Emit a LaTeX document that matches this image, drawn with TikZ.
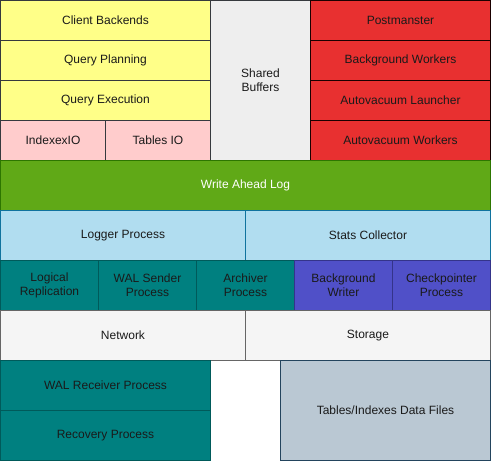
\documentclass[tikz,border=0pt]{standalone}
\usepackage{fontspec}
\setmainfont{Liberation Sans}
\usepackage{tikz}
\usetikzlibrary{positioning}

\definecolor{yellowFill}{HTML}{FFFF88}
\definecolor{pinkFill}{HTML}{FFCCCC}
\definecolor{greyFill}{HTML}{EEEEEE}
\definecolor{darkLine}{HTML}{36393D}
\definecolor{redFill}{HTML}{E83030}
\definecolor{redLine}{HTML}{1A0000}
\definecolor{greenFill}{HTML}{60A917}
\definecolor{greenLine}{HTML}{2D7600}
\definecolor{blueFill}{HTML}{B1DDF0}
\definecolor{blueLine}{HTML}{10739E}
\definecolor{tealFill}{HTML}{008080}
\definecolor{tealLine}{HTML}{005A5A}
\definecolor{violetFill}{HTML}{5050C8}
\definecolor{violetLine}{HTML}{34348A}
\definecolor{lightFill}{HTML}{F5F5F5}
\definecolor{lightLine}{HTML}{666666}
\definecolor{slateFill}{HTML}{BAC8D3}
\definecolor{slateLine}{HTML}{23445D}
\definecolor{textDark}{HTML}{1A1A1A}

\begin{document}
\begin{tikzpicture}[
	x=1pt, y=-1pt,
	MyBox/.style={rectangle, draw, line width=1pt, anchor=north west,
		inner sep=0pt, outer sep=0pt, align=center, text=textDark,
		font=\fontsize{12}{14}\selectfont},
	YellowBox/.style={MyBox, fill=yellowFill, draw=darkLine},
	PinkBox/.style={MyBox, fill=pinkFill, draw=darkLine},
	RedBox/.style={MyBox, fill=redFill, draw=redLine},
	BlueBox/.style={MyBox, fill=blueFill, draw=blueLine},
	TealBox/.style={MyBox, fill=tealFill, draw=tealLine},
	VioletBox/.style={MyBox, fill=violetFill, draw=violetLine},
	LightBox/.style={MyBox, fill=lightFill, draw=lightLine}
	]

\useasboundingbox (0,0) rectangle (491,461);

% backend processes
\node [YellowBox, minimum width=210pt, minimum height=40pt] (client) at (0.5,0.5) {Client Backends};
\node [YellowBox, minimum width=210pt, minimum height=40pt] (planning) at (0.5,40.5) {Query Planning};
\node [YellowBox, minimum width=210pt, minimum height=40pt] (execution) at (0.5,80.5) {Query Execution};
\node [PinkBox, minimum width=105pt, minimum height=40pt] (indexio) at (0.5,120.5) {IndexexIO};
\node [PinkBox, minimum width=105pt, minimum height=40pt] (tablesio) at (105.5,120.5) {Tables IO};

% shared memory
\node [MyBox, fill=greyFill, draw=darkLine, minimum width=100pt, minimum height=160pt] (buffers) at (210.5,0.5) {Shared\\Buffers};

% server processes
\node [RedBox, minimum width=180pt, minimum height=40pt] (postmaster) at (310.5,0.5) {Postmanster};
\node [RedBox, minimum width=180pt, minimum height=40pt] (bgworkers) at (310.5,40.5) {Background Workers};
\node [RedBox, minimum width=180pt, minimum height=40pt] (avlauncher) at (310.5,80.5) {Autovacuum Launcher};
\node [RedBox, minimum width=180pt, minimum height=40pt] (avworkers) at (310.5,120.5) {Autovacuum Workers};

% WAL
\node [MyBox, fill=greenFill, draw=greenLine, text=white, minimum width=490pt, minimum height=50pt] (wal) at (0.5,160.5) {Write Ahead Log};

\node [BlueBox, minimum width=245pt, minimum height=50pt] (logger) at (0.5,210.5) {Logger Process};
\node [BlueBox, minimum width=245pt, minimum height=50pt] (stats) at (245.5,210.5) {Stats Collector};

\node [TealBox, minimum width=98pt, minimum height=50pt] (logical) at (0.5,260.5) {Logical\\Replication};
\node [TealBox, minimum width=98pt, minimum height=50pt] (walsender) at (98.5,260.5) {WAL Sender\\Process};
\node [TealBox, minimum width=98pt, minimum height=50pt] (archiver) at (196.5,260.5) {Archiver\\Process};
\node [VioletBox, minimum width=98pt, minimum height=50pt] (bgwriter) at (294.5,260.5) {Background\\Writer};
\node [VioletBox, minimum width=98pt, minimum height=50pt] (checkpointer) at (392.5,260.5) {Checkpointer\\Process};

\node [LightBox, minimum width=245pt, minimum height=50pt] (network) at (0.5,310.5) {Network};
\node [LightBox, minimum width=245pt, minimum height=50pt] (storage) at (245.5,310.5) {Storage};

% standby side and data files
\node [TealBox, minimum width=210pt, minimum height=50pt] (walreceiver) at (0.5,360.5) {WAL Receiver Process};
\node [TealBox, minimum width=210pt, minimum height=50pt] (recovery) at (0.5,410.5) {Recovery Process};
\node [MyBox, fill=slateFill, draw=slateLine, minimum width=210pt, minimum height=100pt] (datafiles) at (280.5,360.5) {Tables/Indexes Data Files};

\end{tikzpicture}
\end{document}
